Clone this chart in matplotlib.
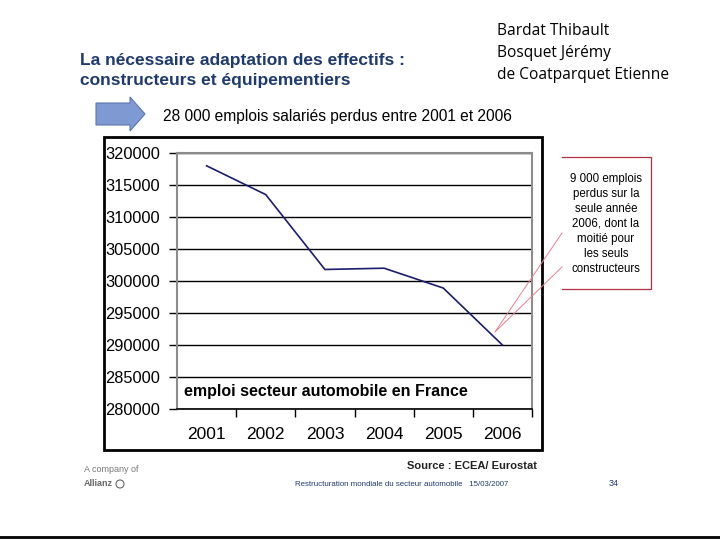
import matplotlib
matplotlib.use('Agg')
import matplotlib.pyplot as plt
from matplotlib.patches import Rectangle, Polygon, Circle

plt.rcParams['font.family'] = ['Liberation Sans', 'DejaVu Sans']

# donnees
annees = ['2001', '2002', '2003', '2004', '2005', '2006']
emplois = [318000, 313500, 301800, 302000, 298900, 290000]
yticks = [280000, 285000, 290000, 295000, 300000, 305000, 310000, 315000, 320000]

W, H = 720, 540
fig = plt.figure(figsize=(7.2, 5.4), dpi=100)

# fond en coordonnees pixel
bg = fig.add_axes([0, 0, 1, 1])
bg.set_xlim(0, W)
bg.set_ylim(H, 0)
bg.axis('off')

# auteurs
for i, nom in enumerate(['Bardat Thibault', 'Bosquet Jérémy', 'de Coatparquet Etienne']):
    bg.text(497, 31 + 22 * i, nom, fontsize=11.2, family=['Open Sans', 'DejaVu Sans'],
            va='center', ha='left', color='black')

# titre
titre_c = '#1f3a6e'
bg.text(80, 60, 'La nécessaire adaptation des effectifs :', fontsize=12.5,
        fontweight='bold', color=titre_c, va='center')
bg.text(80, 81, 'constructeurs et équipementiers', fontsize=12.5,
        fontweight='bold', color=titre_c, va='center')

# fleche bleue
fleche = Polygon([(96, 103), (130, 103), (130, 97), (145, 114), (130, 131),
                  (130, 125), (96, 125)], closed=True,
                 facecolor='#7f9ad2', edgecolor='#5b75b5', lw=0.8)
bg.add_patch(fleche)
bg.text(163, 116, '28 000 emplois salariés perdus entre 2001 et 2006', fontsize=11.2,
        va='center', ha='left')

# cadre du graphique
bg.add_patch(Rectangle((104, 137), 438, 313, fill=False, edgecolor='black', lw=2))

# bulle
bc = '#b03040'
bg.plot([562, 651, 651, 562], [157, 157, 289, 289], color=bc, lw=0.9)
bulle = ['9 000 emplois', 'perdus sur la', 'seule année', '2006, dont la',
         'moitié pour', 'les seuls', 'constructeurs']
for i, l in enumerate(bulle):
    bg.text(606, 179 + 15 * i, l, fontsize=8.3, ha='center', va='center')

# pied de page
bg.text(84, 469, 'A company of', fontsize=6.5, color='#777777', va='center')
bg.text(84, 484, 'Allianz', fontsize=6.5, color='#666666', va='center', fontweight='bold')
bg.add_patch(Circle((120, 484), 4, fill=False, edgecolor='#666666', lw=0.8))
bg.text(537, 466, 'Source : ECEA/ Eurostat', fontsize=8, fontweight='bold',
        ha='right', va='center', color='#222222')
bg.text(295, 484, 'Restructuration mondiale du secteur automobile   15/03/2007',
        fontsize=5.7, color='#1f3a6e', va='center')
bg.text(609, 484, '34', fontsize=6.5, color='#1f3a6e', va='center')
bg.plot([0, W], [537, 537], color='black', lw=2)

# graphique
ax = fig.add_axes([177 / W, (H - 409) / H, (532 - 177) / W, (409 - 153) / H])
x = list(range(len(annees)))
ax.plot(x, emplois, color='#1c1c6e', lw=1.2, zorder=3)
ax.set_xlim(-0.5, len(annees) - 0.5)
ax.set_ylim(280000, 320000)
ax.set_yticks(yticks)
ax.set_yticklabels([str(v) for v in yticks], fontsize=11.8)
ax.yaxis.grid(True, color='black', lw=1)
ax.set_axisbelow(True)
ax.tick_params(axis='y', length=6, width=1, color='black', pad=6)
ax.set_xticks(x)
ax.set_xticklabels(annees, fontsize=12.5)
ax.set_xticks([i + 0.5 for i in x], minor=True)
ax.tick_params(axis='x', which='major', length=0, pad=13)
ax.tick_params(axis='x', which='minor', length=6, width=1, color='black')
for s in ['left', 'top', 'right']:
    ax.spines[s].set_color('#8c8c8c')
    ax.spines[s].set_linewidth(1.5)
ax.spines['bottom'].set_color('black')
ax.spines['bottom'].set_linewidth(1.2)
ax.text(0.02, 0.07, 'emploi secteur automobile en France', transform=ax.transAxes,
        fontsize=11.5, fontweight='bold', va='center', ha='left')

# traits de la bulle par-dessus le graphique
top = fig.add_axes([0, 0, 1, 1])
top.set_xlim(0, W)
top.set_ylim(H, 0)
top.axis('off')
top.patch.set_alpha(0)
top.plot([562, 495, 562], [233, 332, 267], color='#e88090', lw=0.7)

fig.savefig('out.png', dpi=100)
